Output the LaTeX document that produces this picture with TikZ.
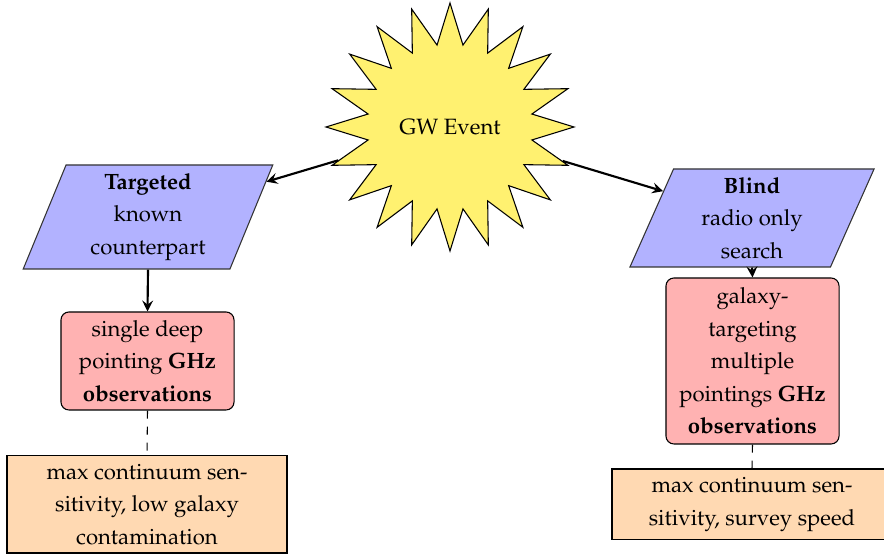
\documentclass[tikz,border=0pt]{standalone}
\usepackage[T1]{fontenc}
\usepackage{mathpazo}
\usetikzlibrary{shapes.symbols,shapes.geometric,arrows}
\definecolor{staryellow}{RGB}{255,241,112}
\begin{document}
\begin{tikzpicture}[x=0.375pt,y=-0.375pt,
  every node/.style={font=\fontsize{8.3pt}{12.2pt}\selectfont},
  burst/.style={starburst, starburst points=20, random starburst=0,
    starburst point height=15.4pt, minimum size=93pt, inner sep=0pt,
    draw=black, fill=staryellow},
  para/.style={trapezium, trapezium left angle=71, trapezium right angle=109,
    trapezium stretches=true, draw=black!80, fill=blue!30, align=center, inner sep=0pt},
  obsbox/.style={rectangle, rounded corners=3pt, draw=black, fill=red!30,
    align=center, inner sep=0pt, minimum width=64.9pt},
  notebox/.style={rectangle, draw=black, fill=orange!30, align=center,
    inner sep=0pt, minimum width=105pt},
  arr/.style={-stealth, thick}
]
\useasboundingbox (0,0) rectangle (884,554);
\node[burst] (gw) at (450,127) {GW Event};
\node[para, minimum width=93.75pt, minimum height=39pt] (tgt) at (148,217)
  {\textbf{Targeted}\\known\\counterpart};
\node[para, minimum width=91.9pt, minimum height=36.75pt] (blind) at (752,218)
  {\textbf{Blind}\\radio only\\search};
\node[obsbox, minimum height=36.75pt] (obsL) at (147.5,361)
  {single deep\\pointing \textbf{GHz}\\\textbf{observations}};
\node[obsbox, minimum height=62.25pt] (obsR) at (752.5,361)
  {galaxy-\\targeting\\multiple\\pointings \textbf{GHz}\\\textbf{observations}};
\node[notebox, minimum height=36.4pt] (noteL) at (147,504.5)
  {max continuum sen-\\sitivity, low galaxy\\contamination};
\node[notebox, minimum height=26.6pt] (noteR) at (752,504.5)
  {max continuum sen-\\sitivity, survey speed};
\draw[arr] (gw) -- (tgt);
\draw[arr] (gw) -- (blind);
\draw[arr] (tgt.south) -- (obsL.north);
\draw[arr] (blind.south) -- (obsR.north);
\draw[dashed] (obsL.south) -- (noteL.north);
\draw[dashed] (obsR.south) -- (noteR.north);
\end{tikzpicture}
\end{document}
